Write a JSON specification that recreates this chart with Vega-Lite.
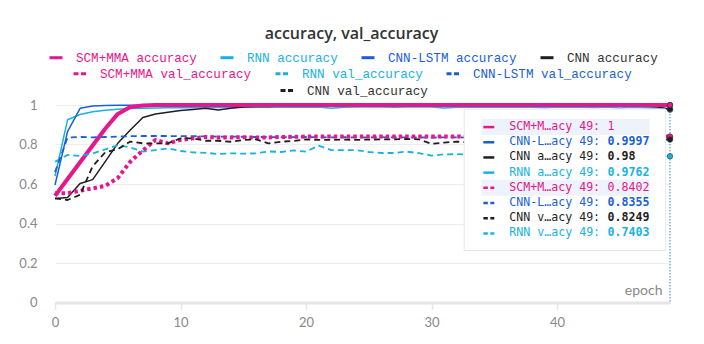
{
  "$schema": "https://vega.github.io/schema/vega-lite/v6.json",
  "width": 615,
  "height": 197.5,
  "autosize": {"type": "none"},
  "padding": {"left": 55, "top": 105, "right": 34, "bottom": 41.5},
  "background": "white",
  "title": {"text": "accuracy, val_accuracy", "anchor": "middle", "dx": -11, "font": "Open Sans", "fontSize": 16, "fontWeight": 600, "color": "#333333", "offset": 8},
  "config": {
    "view": {"stroke": null},
    "legend": {
      "orient": "none",
      "direction": "horizontal",
      "symbolType": "stroke",
      "symbolSize": 169,
      "symbolStrokeWidth": 3,
      "labelFont": "Liberation Mono",
      "labelFontSize": 12.6,
      "labelOffset": 12,
      "columnPadding": 17,
      "labelLimit": 400,
      "padding": 0
    }
  },
  "datasets": {
    "acc": [
      {"epoch": 0, "SCM+MMA accuracy": 0.54, "RNN accuracy": 0.64, "CNN-LSTM accuracy": 0.595, "CNN accuracy": 0.527, "SCM+MMA val_accuracy": 0.553, "RNN val_accuracy": 0.713, "CNN-LSTM val_accuracy": 0.66, "CNN val_accuracy": 0.527},
      {"epoch": 1, "SCM+MMA accuracy": 0.625, "RNN accuracy": 0.925, "CNN-LSTM accuracy": 0.865, "CNN accuracy": 0.532, "SCM+MMA val_accuracy": 0.553, "RNN val_accuracy": 0.747, "CNN-LSTM val_accuracy": 0.835, "CNN val_accuracy": 0.519},
      {"epoch": 2, "SCM+MMA accuracy": 0.71, "RNN accuracy": 0.952, "CNN-LSTM accuracy": 0.983, "CNN accuracy": 0.603, "SCM+MMA val_accuracy": 0.566, "RNN val_accuracy": 0.742, "CNN-LSTM val_accuracy": 0.838, "CNN val_accuracy": 0.545},
      {"epoch": 3, "SCM+MMA accuracy": 0.795, "RNN accuracy": 0.966, "CNN-LSTM accuracy": 0.995, "CNN accuracy": 0.622, "SCM+MMA val_accuracy": 0.578, "RNN val_accuracy": 0.755, "CNN-LSTM val_accuracy": 0.836, "CNN val_accuracy": 0.69},
      {"epoch": 4, "SCM+MMA accuracy": 0.88, "RNN accuracy": 0.974, "CNN-LSTM accuracy": 0.998, "CNN accuracy": 0.713, "SCM+MMA val_accuracy": 0.59, "RNN val_accuracy": 0.775, "CNN-LSTM val_accuracy": 0.838, "CNN val_accuracy": 0.76},
      {"epoch": 5, "SCM+MMA accuracy": 0.955, "RNN accuracy": 0.979, "CNN-LSTM accuracy": 0.999, "CNN accuracy": 0.806, "SCM+MMA val_accuracy": 0.63, "RNN val_accuracy": 0.797, "CNN-LSTM val_accuracy": 0.84, "CNN val_accuracy": 0.776},
      {"epoch": 6, "SCM+MMA accuracy": 0.99, "RNN accuracy": 0.982, "CNN-LSTM accuracy": 0.999, "CNN accuracy": 0.873, "SCM+MMA val_accuracy": 0.713, "RNN val_accuracy": 0.785, "CNN-LSTM val_accuracy": 0.842, "CNN val_accuracy": 0.815},
      {"epoch": 7, "SCM+MMA accuracy": 0.998, "RNN accuracy": 0.984, "CNN-LSTM accuracy": 0.999, "CNN accuracy": 0.937, "SCM+MMA val_accuracy": 0.77, "RNN val_accuracy": 0.764, "CNN-LSTM val_accuracy": 0.843, "CNN val_accuracy": 0.806},
      {"epoch": 8, "SCM+MMA accuracy": 1, "RNN accuracy": 0.985, "CNN-LSTM accuracy": 0.9995, "CNN accuracy": 0.954, "SCM+MMA val_accuracy": 0.823, "RNN val_accuracy": 0.772, "CNN-LSTM val_accuracy": 0.843, "CNN val_accuracy": 0.806},
      {"epoch": 9, "SCM+MMA accuracy": 1, "RNN accuracy": 0.986, "CNN-LSTM accuracy": 0.9995, "CNN accuracy": 0.963, "SCM+MMA val_accuracy": 0.806, "RNN val_accuracy": 0.78, "CNN-LSTM val_accuracy": 0.843, "CNN val_accuracy": 0.806},
      {"epoch": 10, "SCM+MMA accuracy": 1, "RNN accuracy": 0.987, "CNN-LSTM accuracy": 0.9995, "CNN accuracy": 0.972, "SCM+MMA val_accuracy": 0.823, "RNN val_accuracy": 0.767, "CNN-LSTM val_accuracy": 0.842, "CNN val_accuracy": 0.831},
      {"epoch": 11, "SCM+MMA accuracy": 1, "RNN accuracy": 0.986, "CNN-LSTM accuracy": 0.9997, "CNN accuracy": 0.977, "SCM+MMA val_accuracy": 0.831, "RNN val_accuracy": 0.76, "CNN-LSTM val_accuracy": 0.842, "CNN val_accuracy": 0.831},
      {"epoch": 12, "SCM+MMA accuracy": 1, "RNN accuracy": 0.988, "CNN-LSTM accuracy": 0.9997, "CNN accuracy": 0.983, "SCM+MMA val_accuracy": 0.838, "RNN val_accuracy": 0.758, "CNN-LSTM val_accuracy": 0.841, "CNN val_accuracy": 0.819},
      {"epoch": 13, "SCM+MMA accuracy": 1, "RNN accuracy": 0.987, "CNN-LSTM accuracy": 0.9997, "CNN accuracy": 0.975, "SCM+MMA val_accuracy": 0.836, "RNN val_accuracy": 0.752, "CNN-LSTM val_accuracy": 0.84, "CNN val_accuracy": 0.819},
      {"epoch": 14, "SCM+MMA accuracy": 1, "RNN accuracy": 0.989, "CNN-LSTM accuracy": 0.9998, "CNN accuracy": 0.983, "SCM+MMA val_accuracy": 0.836, "RNN val_accuracy": 0.755, "CNN-LSTM val_accuracy": 0.84, "CNN val_accuracy": 0.814},
      {"epoch": 15, "SCM+MMA accuracy": 1, "RNN accuracy": 0.988, "CNN-LSTM accuracy": 0.9998, "CNN accuracy": 0.99, "SCM+MMA val_accuracy": 0.837, "RNN val_accuracy": 0.754, "CNN-LSTM val_accuracy": 0.839, "CNN val_accuracy": 0.823},
      {"epoch": 16, "SCM+MMA accuracy": 1, "RNN accuracy": 0.989, "CNN-LSTM accuracy": 0.9998, "CNN accuracy": 0.993, "SCM+MMA val_accuracy": 0.835, "RNN val_accuracy": 0.755, "CNN-LSTM val_accuracy": 0.838, "CNN val_accuracy": 0.826},
      {"epoch": 17, "SCM+MMA accuracy": 1, "RNN accuracy": 0.99, "CNN-LSTM accuracy": 0.9998, "CNN accuracy": 0.992, "SCM+MMA val_accuracy": 0.836, "RNN val_accuracy": 0.765, "CNN-LSTM val_accuracy": 0.838, "CNN val_accuracy": 0.806},
      {"epoch": 18, "SCM+MMA accuracy": 1, "RNN accuracy": 0.988, "CNN-LSTM accuracy": 0.9998, "CNN accuracy": 0.995, "SCM+MMA val_accuracy": 0.838, "RNN val_accuracy": 0.762, "CNN-LSTM val_accuracy": 0.837, "CNN val_accuracy": 0.814},
      {"epoch": 19, "SCM+MMA accuracy": 1, "RNN accuracy": 0.99, "CNN-LSTM accuracy": 0.9998, "CNN accuracy": 0.994, "SCM+MMA val_accuracy": 0.839, "RNN val_accuracy": 0.77, "CNN-LSTM val_accuracy": 0.837, "CNN val_accuracy": 0.818},
      {"epoch": 20, "SCM+MMA accuracy": 1, "RNN accuracy": 0.989, "CNN-LSTM accuracy": 0.9998, "CNN accuracy": 0.996, "SCM+MMA val_accuracy": 0.84, "RNN val_accuracy": 0.764, "CNN-LSTM val_accuracy": 0.838, "CNN val_accuracy": 0.826},
      {"epoch": 21, "SCM+MMA accuracy": 1, "RNN accuracy": 0.99, "CNN-LSTM accuracy": 0.9998, "CNN accuracy": 0.995, "SCM+MMA val_accuracy": 0.84, "RNN val_accuracy": 0.794, "CNN-LSTM val_accuracy": 0.837, "CNN val_accuracy": 0.823},
      {"epoch": 22, "SCM+MMA accuracy": 1, "RNN accuracy": 0.984, "CNN-LSTM accuracy": 0.9998, "CNN accuracy": 0.997, "SCM+MMA val_accuracy": 0.841, "RNN val_accuracy": 0.772, "CNN-LSTM val_accuracy": 0.836, "CNN val_accuracy": 0.823},
      {"epoch": 23, "SCM+MMA accuracy": 1, "RNN accuracy": 0.989, "CNN-LSTM accuracy": 0.9998, "CNN accuracy": 0.996, "SCM+MMA val_accuracy": 0.84, "RNN val_accuracy": 0.771, "CNN-LSTM val_accuracy": 0.837, "CNN val_accuracy": 0.825},
      {"epoch": 24, "SCM+MMA accuracy": 1, "RNN accuracy": 0.99, "CNN-LSTM accuracy": 0.9998, "CNN accuracy": 0.997, "SCM+MMA val_accuracy": 0.841, "RNN val_accuracy": 0.772, "CNN-LSTM val_accuracy": 0.836, "CNN val_accuracy": 0.823},
      {"epoch": 25, "SCM+MMA accuracy": 1, "RNN accuracy": 0.991, "CNN-LSTM accuracy": 0.9998, "CNN accuracy": 0.998, "SCM+MMA val_accuracy": 0.84, "RNN val_accuracy": 0.762, "CNN-LSTM val_accuracy": 0.836, "CNN val_accuracy": 0.825},
      {"epoch": 26, "SCM+MMA accuracy": 1, "RNN accuracy": 0.99, "CNN-LSTM accuracy": 0.9998, "CNN accuracy": 0.997, "SCM+MMA val_accuracy": 0.841, "RNN val_accuracy": 0.757, "CNN-LSTM val_accuracy": 0.837, "CNN val_accuracy": 0.826},
      {"epoch": 27, "SCM+MMA accuracy": 1, "RNN accuracy": 0.988, "CNN-LSTM accuracy": 0.9998, "CNN accuracy": 0.998, "SCM+MMA val_accuracy": 0.84, "RNN val_accuracy": 0.757, "CNN-LSTM val_accuracy": 0.836, "CNN val_accuracy": 0.826},
      {"epoch": 28, "SCM+MMA accuracy": 1, "RNN accuracy": 0.99, "CNN-LSTM accuracy": 0.9998, "CNN accuracy": 0.997, "SCM+MMA val_accuracy": 0.841, "RNN val_accuracy": 0.764, "CNN-LSTM val_accuracy": 0.836, "CNN val_accuracy": 0.828},
      {"epoch": 29, "SCM+MMA accuracy": 1, "RNN accuracy": 0.991, "CNN-LSTM accuracy": 0.9998, "CNN accuracy": 0.998, "SCM+MMA val_accuracy": 0.84, "RNN val_accuracy": 0.756, "CNN-LSTM val_accuracy": 0.836, "CNN val_accuracy": 0.826},
      {"epoch": 30, "SCM+MMA accuracy": 1, "RNN accuracy": 0.99, "CNN-LSTM accuracy": 0.9998, "CNN accuracy": 0.998, "SCM+MMA val_accuracy": 0.84, "RNN val_accuracy": 0.744, "CNN-LSTM val_accuracy": 0.835, "CNN val_accuracy": 0.803},
      {"epoch": 31, "SCM+MMA accuracy": 1, "RNN accuracy": 0.985, "CNN-LSTM accuracy": 0.9998, "CNN accuracy": 0.997, "SCM+MMA val_accuracy": 0.841, "RNN val_accuracy": 0.75, "CNN-LSTM val_accuracy": 0.836, "CNN val_accuracy": 0.81},
      {"epoch": 32, "SCM+MMA accuracy": 1, "RNN accuracy": 0.989, "CNN-LSTM accuracy": 0.9998, "CNN accuracy": 0.998, "SCM+MMA val_accuracy": 0.84, "RNN val_accuracy": 0.751, "CNN-LSTM val_accuracy": 0.836, "CNN val_accuracy": 0.815},
      {"epoch": 33, "SCM+MMA accuracy": 1, "RNN accuracy": 0.99, "CNN-LSTM accuracy": 0.9998, "CNN accuracy": 0.998, "SCM+MMA val_accuracy": 0.84, "RNN val_accuracy": 0.75, "CNN-LSTM val_accuracy": 0.835, "CNN val_accuracy": 0.81},
      {"epoch": 34, "SCM+MMA accuracy": 1, "RNN accuracy": 0.989, "CNN-LSTM accuracy": 0.9998, "CNN accuracy": 0.998, "SCM+MMA val_accuracy": 0.841, "RNN val_accuracy": 0.752, "CNN-LSTM val_accuracy": 0.836, "CNN val_accuracy": 0.818},
      {"epoch": 35, "SCM+MMA accuracy": 1, "RNN accuracy": 0.99, "CNN-LSTM accuracy": 0.9998, "CNN accuracy": 0.997, "SCM+MMA val_accuracy": 0.84, "RNN val_accuracy": 0.748, "CNN-LSTM val_accuracy": 0.835, "CNN val_accuracy": 0.82},
      {"epoch": 36, "SCM+MMA accuracy": 1, "RNN accuracy": 0.988, "CNN-LSTM accuracy": 0.9998, "CNN accuracy": 0.998, "SCM+MMA val_accuracy": 0.84, "RNN val_accuracy": 0.755, "CNN-LSTM val_accuracy": 0.836, "CNN val_accuracy": 0.822},
      {"epoch": 37, "SCM+MMA accuracy": 1, "RNN accuracy": 0.99, "CNN-LSTM accuracy": 0.9998, "CNN accuracy": 0.998, "SCM+MMA val_accuracy": 0.841, "RNN val_accuracy": 0.75, "CNN-LSTM val_accuracy": 0.835, "CNN val_accuracy": 0.819},
      {"epoch": 38, "SCM+MMA accuracy": 1, "RNN accuracy": 0.989, "CNN-LSTM accuracy": 0.9998, "CNN accuracy": 0.997, "SCM+MMA val_accuracy": 0.84, "RNN val_accuracy": 0.753, "CNN-LSTM val_accuracy": 0.836, "CNN val_accuracy": 0.823},
      {"epoch": 39, "SCM+MMA accuracy": 1, "RNN accuracy": 0.986, "CNN-LSTM accuracy": 0.9998, "CNN accuracy": 0.998, "SCM+MMA val_accuracy": 0.84, "RNN val_accuracy": 0.747, "CNN-LSTM val_accuracy": 0.835, "CNN val_accuracy": 0.82},
      {"epoch": 40, "SCM+MMA accuracy": 1, "RNN accuracy": 0.99, "CNN-LSTM accuracy": 0.9998, "CNN accuracy": 0.998, "SCM+MMA val_accuracy": 0.841, "RNN val_accuracy": 0.752, "CNN-LSTM val_accuracy": 0.836, "CNN val_accuracy": 0.824},
      {"epoch": 41, "SCM+MMA accuracy": 1, "RNN accuracy": 0.988, "CNN-LSTM accuracy": 0.9998, "CNN accuracy": 0.997, "SCM+MMA val_accuracy": 0.84, "RNN val_accuracy": 0.749, "CNN-LSTM val_accuracy": 0.835, "CNN val_accuracy": 0.821},
      {"epoch": 42, "SCM+MMA accuracy": 1, "RNN accuracy": 0.989, "CNN-LSTM accuracy": 0.9998, "CNN accuracy": 0.998, "SCM+MMA val_accuracy": 0.84, "RNN val_accuracy": 0.745, "CNN-LSTM val_accuracy": 0.836, "CNN val_accuracy": 0.823},
      {"epoch": 43, "SCM+MMA accuracy": 1, "RNN accuracy": 0.987, "CNN-LSTM accuracy": 0.9998, "CNN accuracy": 0.998, "SCM+MMA val_accuracy": 0.841, "RNN val_accuracy": 0.751, "CNN-LSTM val_accuracy": 0.835, "CNN val_accuracy": 0.825},
      {"epoch": 44, "SCM+MMA accuracy": 1, "RNN accuracy": 0.99, "CNN-LSTM accuracy": 0.9998, "CNN accuracy": 0.997, "SCM+MMA val_accuracy": 0.84, "RNN val_accuracy": 0.748, "CNN-LSTM val_accuracy": 0.836, "CNN val_accuracy": 0.822},
      {"epoch": 45, "SCM+MMA accuracy": 1, "RNN accuracy": 0.985, "CNN-LSTM accuracy": 0.9998, "CNN accuracy": 0.998, "SCM+MMA val_accuracy": 0.84, "RNN val_accuracy": 0.744, "CNN-LSTM val_accuracy": 0.835, "CNN val_accuracy": 0.824},
      {"epoch": 46, "SCM+MMA accuracy": 1, "RNN accuracy": 0.988, "CNN-LSTM accuracy": 0.9998, "CNN accuracy": 0.996, "SCM+MMA val_accuracy": 0.841, "RNN val_accuracy": 0.75, "CNN-LSTM val_accuracy": 0.836, "CNN val_accuracy": 0.826},
      {"epoch": 47, "SCM+MMA accuracy": 1, "RNN accuracy": 0.986, "CNN-LSTM accuracy": 0.9998, "CNN accuracy": 0.994, "SCM+MMA val_accuracy": 0.84, "RNN val_accuracy": 0.746, "CNN-LSTM val_accuracy": 0.835, "CNN val_accuracy": 0.823},
      {"epoch": 48, "SCM+MMA accuracy": 1, "RNN accuracy": 0.984, "CNN-LSTM accuracy": 0.9998, "CNN accuracy": 0.99, "SCM+MMA val_accuracy": 0.84, "RNN val_accuracy": 0.745, "CNN-LSTM val_accuracy": 0.836, "CNN val_accuracy": 0.825},
      {"epoch": 49, "SCM+MMA accuracy": 1, "RNN accuracy": 0.9762, "CNN-LSTM accuracy": 0.9997, "CNN accuracy": 0.98, "SCM+MMA val_accuracy": 0.8402, "RNN val_accuracy": 0.7403, "CNN-LSTM val_accuracy": 0.8355, "CNN val_accuracy": 0.8249}
    ],
    "tip": [
      {"order": 1, "series": "SCM+MMA accuracy", "label": "SCM+M…acy 49:", "value": "1"},
      {"order": 2, "series": "CNN-LSTM accuracy", "label": "CNN-L…acy 49:", "value": "0.9997"},
      {"order": 3, "series": "CNN accuracy", "label": "CNN a…acy 49:", "value": "0.98"},
      {"order": 4, "series": "RNN accuracy", "label": "RNN a…acy 49:", "value": "0.9762"},
      {"order": 5, "series": "SCM+MMA val_accuracy", "label": "SCM+M…acy 49:", "value": "0.8402"},
      {"order": 6, "series": "CNN-LSTM val_accuracy", "label": "CNN-L…acy 49:", "value": "0.8355"},
      {"order": 7, "series": "CNN val_accuracy", "label": "CNN v…acy 49:", "value": "0.8249"},
      {"order": 8, "series": "RNN val_accuracy", "label": "RNN v…acy 49:", "value": "0.7403"}
    ]
  },
  "layer": [
    {
      "data": {"name": "acc"},
      "transform": [
        {"fold": ["RNN accuracy", "CNN-LSTM accuracy", "CNN accuracy", "SCM+MMA accuracy", "RNN val_accuracy", "CNN-LSTM val_accuracy", "SCM+MMA val_accuracy", "CNN val_accuracy"], "as": ["series", "value"]}
      ],
      "encoding": {
        "x": {
          "field": "epoch", "type": "quantitative",
          "scale": {"domain": [0, 49], "nice": false, "zero": false},
          "axis": {
            "orient": "bottom", "values": [0, 10, 20, 30, 40], "grid": false,
            "domainColor": "#e6e6e6", "domainWidth": 3,
            "tickColor": "#e6e6e6", "tickWidth": 1.5, "tickSize": 7,
            "labelFont": "Lato", "labelFontSize": 13, "labelColor": "#888888", "labelPadding": 7, "labelFlush": false,
            "title": "epoch", "titleAnchor": "end", "titleAlign": "right", "titleBaseline": "alphabetic",
            "titleX": 607, "titleY": -8, "titleFont": "Lato", "titleFontSize": 14, "titleFontWeight": "normal", "titleColor": "#888888"
          }
        },
        "y": {
          "field": "value", "type": "quantitative",
          "scale": {"domain": [0, 1], "nice": false},
          "axis": {
            "orient": "left", "values": [0, 0.2, 0.4, 0.6, 0.8, 1], "format": "~g",
            "domain": false, "ticks": false, "grid": true, "gridColor": "#ededed", "gridWidth": 1,
            "labelFont": "Lato", "labelFontSize": 13, "labelColor": "#888888", "labelPadding": 18, "title": null
          }
        }
      },
      "layer": [
        {
          "transform": [{"filter": {"field": "series", "oneOf": ["SCM+MMA accuracy", "RNN accuracy", "CNN-LSTM accuracy", "CNN accuracy"]}}],
          "mark": {"type": "line", "clip": false, "strokeJoin": "round"},
          "encoding": {
            "color": {
              "field": "series", "type": "nominal",
              "scale": {"domain": ["SCM+MMA accuracy", "RNN accuracy", "CNN-LSTM accuracy", "CNN accuracy"], "range": ["#e6178c", "#17b3e0", "#1a5fd8", "#1f1f1f"]},
              "legend": {
                "title": null, "orient": "none", "legendX": -7, "legendY": -55.5,
                "encode": {
                  "labels": {"update": {"fill": {"signal": "indexof(datum.value,'SCM+MMA')===0?'#e6178c':indexof(datum.value,'RNN')===0?'#17b3e0':indexof(datum.value,'CNN-LSTM')===0?'#1a5fd8':'#333333'"}}},
                  "symbols": {"update": {"strokeWidth": {"value": 3}, "strokeDash": {"value": []}}}
                }
              }
            },
            "strokeWidth": {"condition": {"test": "datum.series === 'SCM+MMA accuracy'", "value": 4}, "value": 1.5}
          }
        },
        {
          "transform": [{"filter": {"field": "series", "oneOf": ["SCM+MMA val_accuracy", "RNN val_accuracy", "CNN-LSTM val_accuracy"]}}],
          "mark": {"type": "line", "clip": false, "strokeJoin": "round"},
          "encoding": {
            "color": {
              "field": "series", "type": "nominal",
              "scale": {"domain": ["SCM+MMA val_accuracy", "RNN val_accuracy", "CNN-LSTM val_accuracy"], "range": ["#e6178c", "#17b3e0", "#1a5fd8"]},
              "legend": {
                "title": null, "orient": "none", "legendX": 17, "legendY": -39.5,
                "encode": {
                  "labels": {"update": {"fill": {"signal": "indexof(datum.value,'SCM+MMA')===0?'#e6178c':indexof(datum.value,'RNN')===0?'#17b3e0':indexof(datum.value,'CNN-LSTM')===0?'#1a5fd8':'#333333'"}}},
                  "symbols": {"update": {"strokeWidth": {"value": 3}, "strokeDash": {"value": [5, 2.5]}}}
                }
              }
            },
            "strokeWidth": {"condition": {"test": "datum.series === 'SCM+MMA val_accuracy'", "value": 4}, "value": 1.8},
            "strokeDash": {"condition": {"test": "datum.series === 'SCM+MMA val_accuracy'", "value": [3.5, 3]}, "value": [6, 4]}
          }
        },
        {
          "transform": [{"filter": {"field": "series", "equal": "CNN val_accuracy"}}],
          "mark": {"type": "line", "clip": false, "strokeJoin": "round", "strokeWidth": 1.8, "strokeDash": [6, 4]},
          "encoding": {
            "color": {
              "field": "series", "type": "nominal",
              "scale": {"domain": ["CNN val_accuracy"], "range": ["#1f1f1f"]},
              "legend": {
                "title": null, "orient": "none", "legendX": 224, "legendY": -22.5,
                "encode": {
                  "labels": {"update": {"fill": {"value": "#333333"}}},
                  "symbols": {"update": {"strokeWidth": {"value": 3}, "strokeDash": {"value": [5, 2.5]}}}
                }
              }
            }
          }
        }
      ],
      "resolve": {"scale": {"color": "independent"}}
    },
    {
      "data": {"name": "tip"},
      "layer": [
        {
          "data": {"values": [{}]},
          "mark": {"type": "rect", "fill": "white", "stroke": "#e6e6e6", "strokeWidth": 1},
          "encoding": {
            "x": {"datum": 32.6, "type": "quantitative", "axis": null},
            "x2": {"datum": 48.65},
            "y": {"datum": -0.19, "type": "quantitative", "scale": {"domain": [-0.125, 12.22], "reverse": true, "nice": false, "zero": false}, "axis": null},
            "y2": {"datum": 9.125}
          }
        },
        {
          "transform": [{"filter": {"field": "series", "oneOf": ["SCM+MMA accuracy", "SCM+MMA val_accuracy"]}}],
          "mark": {"type": "bar", "fill": "#edf2fb", "size": 16},
          "encoding": {
            "x": {"datum": 33.97, "type": "quantitative", "axis": null},
            "x2": {"datum": 47.37},
            "y": {"field": "order", "type": "quantitative", "axis": null}
          }
        },
        {
          "transform": [{"filter": {"field": "series", "oneOf": ["SCM+MMA accuracy", "RNN accuracy", "CNN-LSTM accuracy", "CNN accuracy"]}}],
          "mark": {"type": "rule", "strokeWidth": 2.5},
          "encoding": {
            "x": {"datum": 34.13, "type": "quantitative", "axis": null},
            "x2": {"datum": 35.0},
            "y": {"field": "order", "type": "quantitative", "axis": null},
            "color": {"field": "series", "type": "nominal", "scale": {"domain": ["SCM+MMA accuracy", "RNN accuracy", "CNN-LSTM accuracy", "CNN accuracy", "SCM+MMA val_accuracy", "RNN val_accuracy", "CNN-LSTM val_accuracy", "CNN val_accuracy"], "range": ["#e6178c", "#17b3e0", "#1a5fd8", "#1f1f1f", "#e6178c", "#17b3e0", "#1a5fd8", "#1f1f1f"]}, "legend": null}
          }
        },
        {
          "transform": [{"filter": {"field": "series", "oneOf": ["SCM+MMA val_accuracy", "RNN val_accuracy", "CNN-LSTM val_accuracy", "CNN val_accuracy"]}}],
          "mark": {"type": "rule", "strokeWidth": 2.5, "strokeDash": [4.5, 2.5]},
          "encoding": {
            "x": {"datum": 34.13, "type": "quantitative", "axis": null},
            "x2": {"datum": 35.0},
            "y": {"field": "order", "type": "quantitative", "axis": null},
            "color": {"field": "series", "type": "nominal", "legend": null}
          }
        },
        {
          "mark": {"type": "text", "align": "left", "baseline": "middle", "font": "DejaVu Sans Mono", "fontSize": 11.6},
          "encoding": {
            "x": {"datum": 36.2, "type": "quantitative", "axis": null},
            "y": {"field": "order", "type": "quantitative", "axis": null},
            "text": {"field": "label"},
            "color": {"field": "series", "type": "nominal", "legend": null}
          }
        },
        {
          "transform": [{"filter": {"field": "series", "oneOf": ["SCM+MMA accuracy", "SCM+MMA val_accuracy"]}}],
          "mark": {"type": "text", "align": "left", "baseline": "middle", "font": "DejaVu Sans Mono", "fontSize": 11.6},
          "encoding": {
            "x": {"datum": 44.02, "type": "quantitative", "axis": null},
            "y": {"field": "order", "type": "quantitative", "axis": null},
            "text": {"field": "value"},
            "color": {"field": "series", "type": "nominal", "legend": null}
          }
        },
        {
          "transform": [{"filter": {"not": {"field": "series", "oneOf": ["SCM+MMA accuracy", "SCM+MMA val_accuracy"]}}}],
          "mark": {"type": "text", "align": "left", "baseline": "middle", "font": "DejaVu Sans Mono", "fontSize": 11.6, "fontWeight": "bold"},
          "encoding": {
            "x": {"datum": 44.02, "type": "quantitative", "axis": null},
            "y": {"field": "order", "type": "quantitative", "axis": null},
            "text": {"field": "value"},
            "color": {"field": "series", "type": "nominal", "legend": null}
          }
        }
      ]
    },
    {
      "data": {"name": "acc"},
      "transform": [
        {"fold": ["RNN accuracy", "CNN-LSTM accuracy", "CNN accuracy", "SCM+MMA accuracy", "RNN val_accuracy", "CNN-LSTM val_accuracy", "SCM+MMA val_accuracy", "CNN val_accuracy"], "as": ["series", "value"]},
        {"filter": "datum.epoch === 49"}
      ],
      "layer": [
        {
          "data": {"values": [{}]},
          "mark": {"type": "rule", "color": "#2f86e0", "strokeDash": [1.5, 1.5], "strokeWidth": 1},
          "encoding": {
            "x": {
              "datum": 49, "type": "quantitative",
              "axis": {"orient": "top", "offset": -197.5, "values": [0, 10, 20, 30, 40], "labels": false, "domain": false, "grid": false, "ticks": true, "tickSize": 7, "tickColor": "#e6e6e6", "tickWidth": 1.5, "title": null}
            }
          }
        },
        {
          "mark": {"type": "circle", "size": 30, "opacity": 1, "clip": false, "stroke": "#333333", "strokeWidth": 0.6},
          "encoding": {
            "x": {"field": "epoch", "type": "quantitative", "axis": null},
            "y": {"field": "value", "type": "quantitative", "scale": {"domain": [0, 1], "nice": false}, "axis": null},
            "color": {"field": "series", "type": "nominal", "scale": {"domain": ["SCM+MMA accuracy", "RNN accuracy", "CNN-LSTM accuracy", "CNN accuracy", "SCM+MMA val_accuracy", "RNN val_accuracy", "CNN-LSTM val_accuracy", "CNN val_accuracy"], "range": ["#e6178c", "#17b3e0", "#1a5fd8", "#1f1f1f", "#e6178c", "#17b3e0", "#1a5fd8", "#1f1f1f"]}, "legend": null}
          }
        }
      ]
    }
  ],
  "resolve": {"scale": {"y": "independent", "color": "independent"}, "axis": {"x": "independent", "y": "independent"}}
}
